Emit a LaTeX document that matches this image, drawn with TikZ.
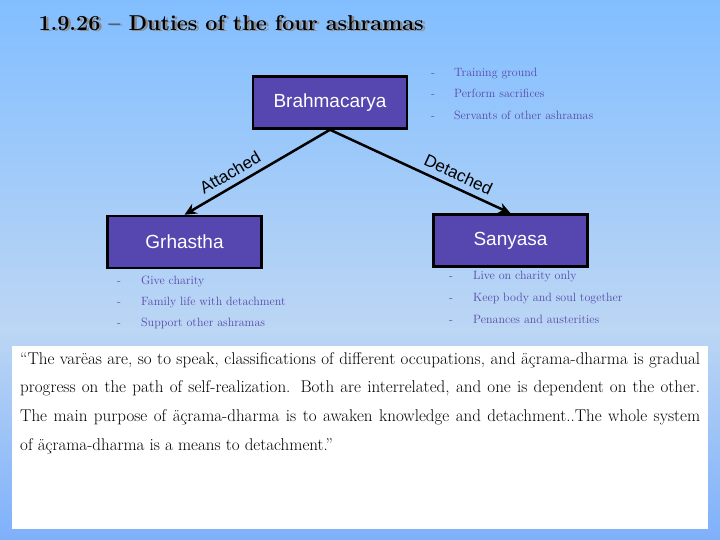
\documentclass[tikz,border=0pt]{standalone}
\usepackage{fontspec}
\newfontfamily\boxfont{Liberation Sans}
\usetikzlibrary{arrows.meta}
\definecolor{SkyTop}{RGB}{130,190,255}
\definecolor{SkyMid}{RGB}{188,214,244}
\definecolor{SkyBot}{RGB}{126,176,250}
\definecolor{AshramaBlue}{RGB}{85,70,176}
\definecolor{DutyPurple}{RGB}{88,72,170}

\tikzset{
  ashrama/.style={draw=black, line width=2.5pt, fill=AshramaBlue, text=white,
    font=\boxfont\fontsize{19}{19}\selectfont, minimum width=154pt,
    minimum height=52pt, inner sep=0pt},
  duty/.style={anchor=west, text=DutyPurple, font=\fontsize{12}{12}\selectfont,
    inner sep=0pt, text height=8pt, text depth=2.5pt},
  branch/.style={line width=2.5pt},
  branchlabel/.style={sloped, above=5pt, font=\boxfont\fontsize{17}{17}\selectfont, inner sep=1pt},
  quoteline/.style={anchor=west, inner sep=0pt, font=\fontsize{17}{17}\selectfont}
}

\begin{document}
\begin{tikzpicture}[x=1pt, y=1pt, >={Stealth[length=12pt,width=11pt]}]
  % --- Background ---
  \useasboundingbox (0,0) rectangle (720,-540);
  \shade[top color=SkyTop, bottom color=SkyMid] (0,0) rectangle (720,-330);
  \shade[top color=SkyMid, bottom color=SkyBot] (0,-330) rectangle (720,-540);
  % --- Title ---
  \node[anchor=west, text=black!45, font=\bfseries\fontsize{21.5}{21.5}\selectfont] (titleshadow)
    at (37.5,-24.5) {1.9.26 – Duties of the four ashramas};
  \node[anchor=west, font=\bfseries\fontsize{21.5}{21.5}\selectfont] (title)
    at (35,-23) {1.9.26 – Duties of the four ashramas};
  % --- Ashramas ---
  \node[ashrama] (brahma) at (330,-102.5) {Brahmacarya};
  \node[ashrama] (grhastha) at (184.5,-242) {Grhastha};
  \node[ashrama] (sanyasa) at (510.5,-240.5) {Sanyasa};
  \draw[branch, <-] (grhastha.north) -- (brahma.south)
    node[branchlabel, pos=0.36] (attached) {Attached};
  \draw[branch, ->] (brahma.south) -- (sanyasa.north)
    node[branchlabel, pos=0.68] (detached) {Detached};
  % --- Duties: Brahmacarya ---
  \node[duty] (bdashA) at (431,-74) {-};
  \node[duty] (bdutyA) at (454,-74) {Training ground};
  \node[duty] (bdashB) at (431,-95) {-};
  \node[duty] (bdutyB) at (454,-95) {Perform sacrifices};
  \node[duty] (bdashC) at (431,-117) {-};
  \node[duty] (bdutyC) at (454,-117) {Servants of other ashramas};
  % --- Duties: Grhastha ---
  \node[duty] (gdashA) at (117,-282) {-};
  \node[duty] (gdutyA) at (141,-282) {Give charity};
  \node[duty] (gdashB) at (117,-303) {-};
  \node[duty] (gdutyB) at (141,-303) {Family life with detachment};
  \node[duty] (gdashC) at (117,-324) {-};
  \node[duty] (gdutyC) at (141,-324) {Support other ashramas};
  % --- Duties: Sanyasa ---
  \node[duty] (sdashA) at (449,-277) {-};
  \node[duty] (sdutyA) at (473,-277) {Live on charity only};
  \node[duty] (sdashB) at (449,-299) {-};
  \node[duty] (sdutyB) at (473,-299) {Keep body and soul together};
  \node[duty] (sdashC) at (449,-321) {-};
  \node[duty] (sdutyC) at (473,-321) {Penances and austerities};
  % --- Quote ---
  \fill[white] (12,-346) rectangle (708,-529);
  \node[quoteline] (quoteA) at (20,-360)
    {\makebox[680pt][s]{“The varëas are, so to speak, classifications of different occupations, and äçrama-dharma is gradual}};
  \node[quoteline] (quoteB) at (20,-388)
    {\makebox[680pt][s]{progress on the path of self-realization. Both are interrelated, and one is dependent on the other.}};
  \node[quoteline] (quoteC) at (20,-417)
    {\makebox[680pt][s]{The main purpose of äçrama-dharma is to awaken knowledge and detachment..The whole system}};
  \node[quoteline] (quoteD) at (20,-446)
    {of äçrama-dharma is a means to detachment.”};
\end{tikzpicture}
\end{document}
